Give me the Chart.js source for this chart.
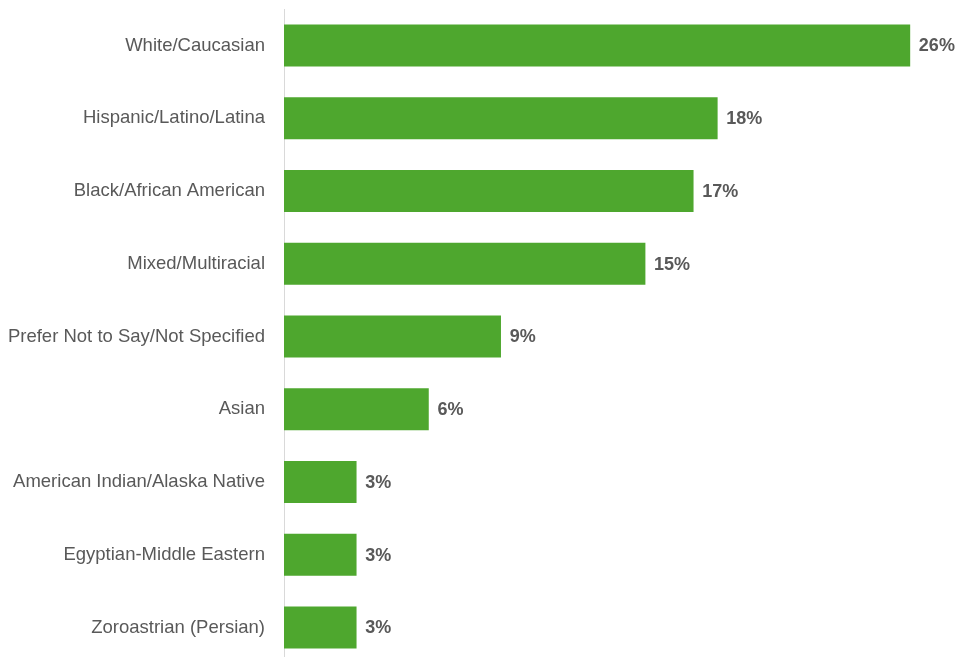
<!DOCTYPE html>
<html>
<head>
<meta charset="utf-8">
<script src="https://cdn.jsdelivr.net/npm/chart.js@4/dist/chart.umd.min.js"></script>
<style>
  html, body { margin: 0; padding: 0; background: #ffffff; overflow: hidden; }
  #wrap { position: relative; width: 958px; height: 715px; margin-top: -21.5px; }
</style>
</head>
<body>
<div id="wrap"><canvas id="chart"></canvas></div>
<script>
// Share of respondents by race / ethnicity (percent)
const categories = [
  "White/Caucasian",
  "Hispanic/Latino/Latina",
  "Black/African American",
  "Mixed/Multiracial",
  "Prefer Not to Say/Not Specified",
  "Asian",
  "American Indian/Alaska Native",
  "Egyptian-Middle Eastern",
  "Zoroastrian (Persian)"
];
const shares = [26, 18, 17, 15, 9, 6, 3, 3, 3];

const labelColor = "#595959";
const barColor = "#4EA72E";
const fontFamily = "'Liberation Sans', Arial, sans-serif";

// Writes the percentage just past the end of each bar
const valueLabels = {
  id: "valueLabels",
  afterDatasetsDraw(chart) {
    const ctx = chart.ctx;
    const meta = chart.getDatasetMeta(0);
    ctx.save();
    ctx.font = "bold 18px " + fontFamily;
    ctx.fillStyle = labelColor;
    ctx.textAlign = "left";
    ctx.textBaseline = "middle";
    meta.data.forEach((bar, i) => {
      ctx.fillText(shares[i] + "%", bar.x + 9, bar.y + 1);
    });
    ctx.restore();
  }
};

new Chart(document.getElementById("chart"), {
  type: "bar",
  data: {
    labels: categories,
    datasets: [{
      data: shares,
      backgroundColor: barColor,
      borderWidth: 0,
      barThickness: 41.5
    }]
  },
  options: {
    indexAxis: "y",
    responsive: true,
    maintainAspectRatio: false,
    animation: false,
    layout: { padding: { top: 8.5, bottom: 0.5, left: 0, right: 0 } },
    plugins: {
      legend: { display: false },
      tooltip: { enabled: false }
    },
    scales: {
      x: {
        display: false,
        min: 0,
        max: 28
      },
      y: {
        grid: { display: false, drawTicks: false },
        border: { display: true, color: "#D9D9D9", width: 1 },
        ticks: {
          color: labelColor,
          padding: 19,
          font: { family: fontFamily, size: 18.5 }
        },
        afterFit(scale) { scale.width = 284; }
      }
    }
  },
  plugins: [valueLabels]
});
</script>
</body>
</html>
